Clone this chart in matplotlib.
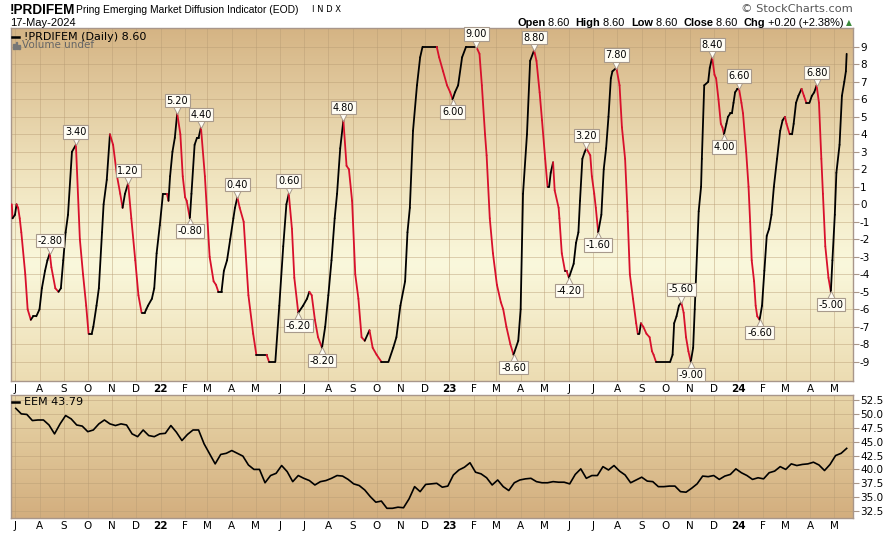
import matplotlib
matplotlib.use("Agg")
import matplotlib.pyplot as plt
import matplotlib.dates as mdates
import matplotlib.transforms as mtransforms
from matplotlib.collections import LineCollection
from matplotlib.colors import LinearSegmentedColormap
from matplotlib.patches import Rectangle
import numpy as np
import pandas as pd

# ---- data ----
START = pd.Timestamp("2021-07-01")

# indicator vertices: day offset from START, value
ind_day = [-4, -3, 0, 2, 4, 6, 8, 13, 16, 20, 23, 27, 31, 34, 38, 41, 44, 46, 51, 55,
           58, 61, 64, 67, 72, 77, 82, 86, 90, 93, 97, 99, 103, 106, 110, 112, 116, 120, 124, 129,
           133, 136, 139, 143, 147, 152, 156, 160, 164, 166, 168, 173, 176, 179, 183, 187, 192, 194, 196, 199,
           202, 205, 209, 212, 215, 217, 221, 223, 227, 230, 232, 235, 240, 246, 251, 254, 257, 261, 264, 268,
           272, 276, 278, 281, 284, 289, 295, 301, 305, 318, 321, 329, 334, 339, 343, 346, 350, 353, 358, 364,
           369, 372, 375, 379, 383, 388, 392, 396, 400, 404, 407, 411, 415, 419, 422, 426, 430, 434, 438, 442,
           448, 452, 457, 463, 472, 478, 482, 487, 493, 496, 499, 503, 508, 512, 515, 533, 536, 541, 546, 550,
           553, 556, 560, 565, 570, 583, 587, 590, 594, 596, 600, 604, 609, 614, 617, 621, 626, 630, 636, 639,
           642, 647, 651, 656, 659, 663, 666, 670, 673, 675, 677, 680, 682, 687, 688, 691, 695, 697, 700, 706,
           709, 712, 714, 717, 720, 722, 727, 729, 732, 734, 737, 741, 744, 747, 750, 753, 755, 760, 764, 767,
           771, 774, 777, 781, 785, 787, 789, 791, 794, 798, 802, 805, 807, 810, 828, 831, 833, 836, 839, 842,
           845, 848, 851, 854, 857, 859, 864, 867, 868, 871, 876, 878, 881, 884, 886, 889, 892, 894, 896, 899,
           901, 904, 906, 908, 910, 913, 915, 918, 920, 924, 927, 929, 931, 934, 936, 938, 941, 944, 947, 950,
           953, 956, 959, 963, 967, 970, 973, 975, 979, 982, 984, 987, 990, 994, 997, 1000, 1004, 1007, 1010, 1013,
           1016, 1019, 1021, 1024, 1028, 1031, 1033, 1036, 1038, 1042, 1045, 1048, 1050, 1051]
ind_val = [0.0, -0.8, -0.6, 0.0, -0.2, -0.8, -1.6, -4.0, -6.0, -6.6, -6.4, -6.4, -6.0, -4.8, -3.8, -3.2, -2.8, -3.6, -4.8, -5.0,
           -4.8, -3.2, -1.6, -0.6, 3.0, 3.4, -2.0, -4.0, -5.8, -7.4, -7.4, -7.0, -5.8, -4.8, -1.6, 0.0, 1.4, 4.0, 3.4, 1.6,
           0.6, -0.2, 0.6, 1.2, -0.8, -3.2, -5.2, -6.2, -6.2, -6.0, -5.8, -5.4, -4.8, -2.8, -1.2, 0.6, 0.6, 0.2, 1.6, 3.0,
           3.8, 5.2, 4.0, 1.6, 0.4, 0.2, -0.8, 0.6, 3.4, 3.8, 3.8, 4.4, 1.6, -3.0, -4.4, -4.6, -5.0, -5.0, -3.8, -3.2,
           -2.0, -0.8, -0.2, 0.4, -0.2, -1.0, -5.2, -7.4, -8.6, -8.6, -9.0, -9.0, -5.8, -2.4, 0.0, 0.6, -1.4, -4.2, -6.2, -5.8,
           -5.4, -5.0, -5.2, -6.6, -7.6, -8.2, -7.0, -5.2, -3.2, -0.8, 0.6, 3.2, 4.8, 2.2, 2.0, 0.2, -4.0, -5.4, -7.6, -7.8,
           -7.2, -8.2, -8.6, -9.0, -9.0, -8.2, -7.6, -5.8, -4.4, -1.6, -0.2, 4.2, 6.8, 8.4, 9.0, 9.0, 8.4, 7.6, 6.8, 6.4,
           6.0, 6.4, 6.8, 8.4, 9.0, 9.0, 8.6, 6.8, 4.0, 2.8, -0.8, -2.8, -4.6, -5.6, -6.0, -7.0, -8.0, -8.6, -7.8, -6.0,
           0.6, 4.0, 8.2, 8.8, 8.2, 6.4, 4.8, 2.6, 1.0, 1.0, 1.8, 2.4, 0.8, -0.2, -0.8, -2.8, -3.8, -3.8, -4.2, -3.4,
           -2.2, -1.6, 0.2, 2.6, 3.0, 3.2, 2.8, 1.6, 0.6, -0.2, -1.6, -0.6, 2.0, 3.2, 5.0, 7.2, 7.6, 7.8, 6.8, 4.4,
           2.6, -0.4, -4.0, -5.4, -6.8, -7.4, -7.4, -6.8, -7.0, -7.4, -7.6, -8.4, -8.6, -9.0, -9.0, -8.6, -6.8, -6.4, -5.8, -5.6,
           -6.2, -7.6, -8.4, -9.0, -8.2, -6.0, -0.4, 1.0, 2.6, 6.8, 7.0, 7.8, 8.4, 7.4, 7.2, 6.0, 4.6, 4.4, 4.0, 4.6,
           5.0, 5.2, 5.2, 5.8, 6.4, 6.6, 6.6, 5.8, 5.2, 3.0, 1.0, -1.0, -3.2, -4.4, -5.8, -6.4, -6.6, -5.8, -3.8, -1.8,
           -1.4, -0.6, 1.0, 2.6, 4.2, 4.8, 5.0, 4.6, 4.0, 4.0, 4.6, 5.8, 6.2, 6.6, 6.2, 5.8, 5.8, 6.2, 6.4, 6.8,
           5.8, 2.6, 0.6, -2.4, -4.2, -5.0, -3.2, -0.6, 1.8, 3.4, 6.2, 7.0, 7.6, 8.6]

# labelled pivots: day offset, value, 'p' = peak, 't' = trough
pivot_day = [44, 77, 143, 205, 221, 235, 281, 346, 358, 388, 415, 553, 583, 630,
             656, 700, 722, 737, 760, 842, 854, 881, 896, 915, 941, 1013, 1031]
pivot_val = [-2.8, 3.4, 1.2, 5.2, -0.8, 4.4, 0.4, 0.6, -6.2, -8.2, 4.8, 6.0, 9.0, -8.6,
             8.8, -4.2, 3.2, -1.6, 7.8, -5.6, -9.0, 8.4, 4.0, 6.6, -6.6, 6.8, -5.0]
pivot_kind = ['p', 'p', 'p', 'p', 't', 'p', 'p', 'p', 't', 't', 'p', 't', 'p', 't',
              'p', 't', 'p', 't', 'p', 'p', 't', 'p', 't', 'p', 't', 'p', 't']

# EEM weekly closes (Fridays) from 2021-07-02
eem_start = "2021-07-02"
eem_close = [51.0, 50.0, 49.9, 48.8, 48.9, 48.9, 48.0, 46.4, 48.2, 49.7,
             49.1, 48.0, 47.8, 46.8, 47.1, 48.2, 48.9, 48.2, 47.9, 48.2,
             48.0, 46.4, 45.9, 47.1, 46.1, 45.9, 46.4, 46.5, 47.9, 46.7,
             45.2, 46.3, 47.1, 47.1, 44.6, 42.8, 41.0, 42.7, 42.9, 43.4,
             42.9, 42.4, 40.8, 40.0, 40.0, 37.6, 38.9, 39.3, 40.7, 39.6,
             37.8, 38.9, 38.4, 38.0, 37.2, 37.8, 38.0, 38.4, 38.9, 38.8,
             38.2, 37.4, 37.1, 36.3, 35.1, 34.1, 34.3, 33.0, 33.0, 33.2,
             33.1, 34.7, 36.9, 36.0, 37.3, 37.4, 37.5, 36.8, 37.0, 39.0,
             39.9, 40.4, 41.2, 39.5, 39.2, 38.5, 37.2, 38.1, 36.9, 36.2,
             37.6, 38.1, 38.3, 38.4, 37.8, 37.6, 37.6, 37.8, 37.7, 37.7,
             37.4, 39.1, 40.1, 38.4, 38.9, 38.9, 40.5, 39.9, 40.7, 39.7,
             39.0, 37.6, 38.1, 38.6, 37.9, 37.8, 36.9, 36.9, 37.0, 37.0,
             36.0, 35.9, 36.6, 37.4, 38.8, 38.7, 38.9, 38.2, 38.8, 39.1,
             40.1, 39.4, 38.9, 38.2, 38.5, 38.3, 39.4, 39.7, 40.5, 40.0,
             41.0, 40.7, 40.9, 41.0, 41.3, 40.8, 39.8, 40.9, 42.5, 42.9,
             43.79]

ind_ticks = list(range(-9, 10))
eem_ticks = [32.5, 35.0, 37.5, 40.0, 42.5, 45.0, 47.5, 50.0, 52.5]

# ---- layout ----
W, H = 892, 535
BORDER = '#a8968a'
GRIDC = '#b89c74'
RED = '#d8102c'


def fx(x):
    return x / W


def fy(y):
    return 1 - y / H


ind_dates = START + pd.to_timedelta(ind_day, unit="D")
piv_dates = START + pd.to_timedelta(pivot_day, unit="D")
eem_dates = pd.date_range(eem_start, periods=len(eem_close), freq="7D")
xlim = (mdates.date2num(START - pd.Timedelta(days=5.4)),
        mdates.date2num(START + pd.Timedelta(days=1059)))
months = pd.date_range("2021-07-01", "2024-05-01", freq="MS")
month_lbl = [str(d.year)[2:] if d.month == 1 else d.strftime("%b")[0] for d in months]

fig = plt.figure(figsize=(W / 100, H / 100), dpi=100)
fig.patch.set_facecolor('white')
ax1 = fig.add_axes([fx(10.7), fy(381), (853 - 10.7) / W, (381 - 28.3) / H])
ax2 = fig.add_axes([fx(10.7), fy(518.3), (853 - 10.7) / W, (518.3 - 395) / H])

grad1 = LinearSegmentedColormap.from_list(
    'g1', [(0.0, '#ecdcb2'), (0.33, '#faf8dc'), (0.6, '#efe2bc'), (1.0, '#d5b484')])
grad2 = LinearSegmentedColormap.from_list('g2', [(0.0, '#d3ae7e'), (1.0, '#e8d6a9')])
for ax, cm in ((ax1, grad1), (ax2, grad2)):
    ax.imshow(np.linspace(0, 1, 256).reshape(-1, 1), cmap=cm, origin='lower',
              extent=[0, 1, 0, 1], transform=ax.transAxes, aspect='auto', zorder=0)
    ax.set_xlim(*xlim)
    ax.set_xticks(mdates.date2num(months))
    ax.set_xticklabels(month_lbl)
    for lbl, d in zip(ax.get_xticklabels(), months):
        if d.month == 1:
            lbl.set_fontweight('bold')
    ax.tick_params(axis='x', length=0, pad=2, labelsize=7.5)
    ax.yaxis.tick_right()
    ax.tick_params(axis='y', length=4, width=0.8, color=BORDER, pad=1, labelsize=7.5)
    ax.grid(True, color=GRIDC, lw=0.7, alpha=0.45, zorder=1)
    for s in ax.spines.values():
        s.set_color(BORDER)
        s.set_linewidth(1.0)

# indicator line, red on falling legs
xs = mdates.date2num(ind_dates)
pts = np.column_stack([xs, ind_val])
segs = np.stack([pts[:-1], pts[1:]], axis=1)
dv = np.diff(ind_val)
cols = [RED if d < 0 else 'black' for d in dv]
ax1.add_collection(LineCollection(segs, colors=cols, linewidths=1.3, zorder=3,
                                  capstyle='round', joinstyle='round'))
ax1.set_ylim(-10.1, 10.06)
ax1.set_yticks(ind_ticks)
ax1.set_yticklabels([str(t) for t in ind_ticks])

# pivot labels
for d, v, k in zip(piv_dates, pivot_val, pivot_kind):
    up = k == 'p'
    x = mdates.date2num(d)
    tr = mtransforms.offset_copy(ax1.transData, fig=fig, x=0, y=2.4 if up else -2.4, units='points')
    ax1.plot([x], [v], marker='v' if up else '^', ms=6, mfc='#fffdf4', mec='#a89a8c',
             mew=0.7, transform=tr, zorder=5, clip_on=False)
    ax1.annotate(f"{v:.2f}", (x, v), xytext=(0, 5.6 if up else -5.6), textcoords='offset points',
                 ha='center', va='bottom' if up else 'top', fontsize=7, zorder=6,
                 bbox=dict(boxstyle='square,pad=0.18', fc='#fffdf4', ec='#a89a8c', lw=0.8),
                 annotation_clip=False)

# EEM
ax2.plot(mdates.date2num(eem_dates), eem_close, color='black', lw=1.2, zorder=3)
ax2.set_ylim(31.2, 53.4)
ax2.set_yticks(eem_ticks)
ax2.set_yticklabels([f"{t:.1f}" for t in eem_ticks])

# panel legends
fig.add_artist(plt.Line2D([fx(12), fx(19)], [fy(36.5)] * 2, color='black', lw=1.8))
fig.text(fx(24), fy(36.5), "!PRDIFEM (Daily) 8.60", fontsize=8, va='center', ha='left')
for i, hgt in enumerate([5, 7, 4]):
    fig.add_artist(Rectangle((fx(13 + i * 2.6), fy(49)), 1.8 / W, hgt / H, color='#777777'))
fig.text(fx(22), fy(45.5), "Volume undef", fontsize=7.5, color='#666666', va='center', ha='left')
fig.add_artist(plt.Line2D([fx(12), fx(19)], [fy(402)] * 2, color='black', lw=1.8))
fig.text(fx(24), fy(402), "EEM 43.79", fontsize=8, va='center', ha='left')

# header
fig.text(fx(10), fy(10), "!PRDIFEM", fontsize=9.8, fontweight='bold',
         family='Liberation Sans', va='center')
fig.text(fx(76), fy(10), "Pring Emerging Market Diffusion Indicator (EOD)", fontsize=7.4,
         family='Liberation Sans', va='center')
fig.text(fx(312), fy(10), "I N D X", fontsize=6, family='DejaVu Sans', va='center')
fig.text(fx(10), fy(22.5), "17-May-2024", fontsize=8, family='Liberation Sans', va='center')
fig.text(fx(853), fy(9), "\u00a9 StockCharts.com", fontsize=8.2, color='#555555',
         family='DejaVu Sans', ha='right', va='center')

pieces = [("Open", 'bold'), (" 8.60  ", 'normal'), ("High", 'bold'), (" 8.60  ", 'normal'),
          ("Low", 'bold'), (" 8.60  ", 'normal'), ("Close", 'bold'), (" 8.60  ", 'normal'),
          ("Chg", 'bold'), (" +0.20 (+2.38%)", 'normal')]
renderer = fig.canvas.get_renderer()
xpos = 517.0
for txt, wt in pieces:
    t = fig.text(fx(xpos), fy(22.5), txt, fontsize=7.9, fontweight=wt,
                 family='Liberation Sans', va='center', ha='left')
    xpos += t.get_window_extent(renderer).width
fig.text(fx(xpos + 2), fy(22.5), "\u25b2", fontsize=5.5, color='#3a8a3a', va='center', ha='left')

fig.savefig("out.png", dpi=100)
